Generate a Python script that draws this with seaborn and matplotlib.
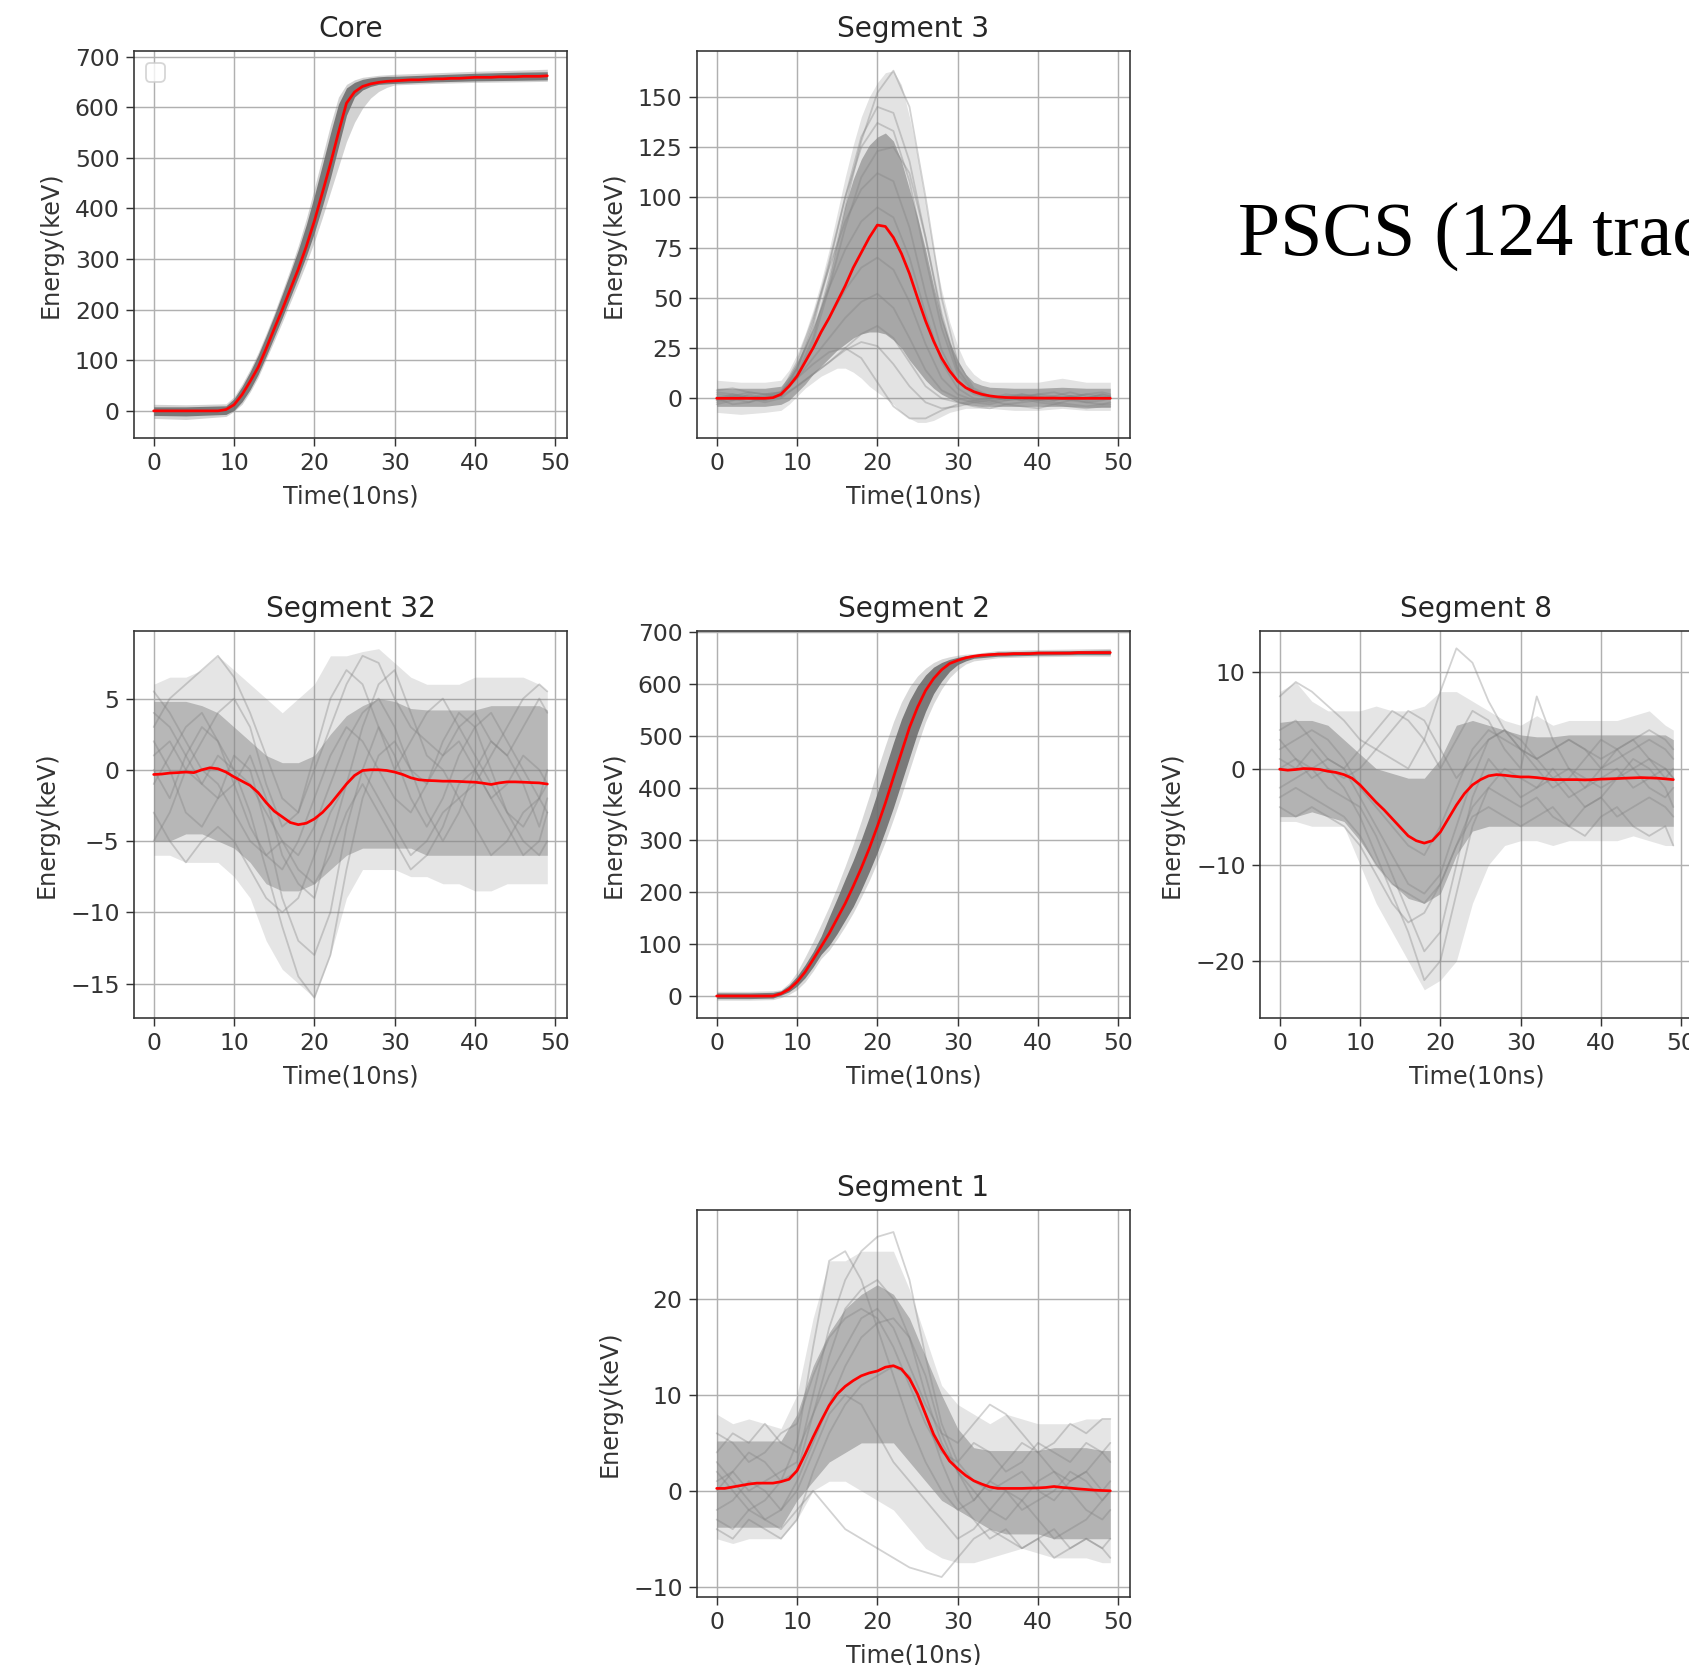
import matplotlib
matplotlib.use("Agg")
import matplotlib.pyplot as plt
import numpy as np
import pandas as pd
import seaborn as sns

# ---------------- data ----------------
time = list(range(50))
time_coarse = list(range(0, 50, 2)) + [49]

# mean (red) traces
core_mean = [0, 0, 0, 0, 0, 0, 0, 0, 0, 2.6,
             12, 32, 58, 86, 123, 162, 200, 240, 280, 325,
             375, 431, 488, 550, 608, 630, 641, 646, 649, 651,
             652, 653, 654, 654, 655, 656, 656, 657, 657, 658,
             659, 659, 659, 660, 660, 660, 661, 661, 661, 662]
seg3_mean = [0, 0, 0, 0, 0, 0, 0, 0.3, 2, 6,
             11, 18, 25, 33, 40, 48, 56, 65, 72.5, 80,
             86.2, 85.5, 80, 72, 62, 50, 38.5, 28.5, 20, 13.6,
             8.6, 5.3, 3.3, 2, 1.2, 0.7, 0.4, 0.3, 0.2, 0.2,
             0.1, 0.1, 0.1, 0, 0, 0, 0, 0, 0, 0]
seg32_mean = [-0.33, -0.3, -0.23, -0.2, -0.16, -0.2, 0, 0.14, 0.07, -0.16,
              -0.5, -0.8, -1.1, -1.6, -2.3, -2.9, -3.3, -3.7, -3.85, -3.75,
              -3.45, -3.0, -2.4, -1.7, -1.0, -0.4, -0.05, 0, 0, -0.05,
              -0.16, -0.33, -0.56, -0.7, -0.75, -0.77, -0.8, -0.8, -0.82, -0.85,
              -0.87, -0.94, -1.03, -0.92, -0.85, -0.85, -0.87, -0.9, -0.92, -1.0]
seg2_mean = [0, 0, 0, 0, 0, 0, 0, 0, 4.5, 13,
             27, 46, 70, 95, 120, 149, 178, 211, 246, 284,
             326, 371, 420, 468, 516, 555, 587, 610, 627, 639,
             645, 650, 653, 655, 656, 657, 657, 658, 658, 658,
             659, 659, 659, 659, 659, 660, 660, 660, 660, 660]
seg8_mean = [-0.07, -0.17, -0.1, 0, -0.03, -0.1, -0.28, -0.4, -0.63, -1.0,
             -1.7, -2.6, -3.5, -4.3, -5.2, -6.1, -7.0, -7.5, -7.75, -7.5,
             -6.6, -5.2, -3.8, -2.6, -1.7, -1.15, -0.76, -0.63, -0.7, -0.8,
             -0.87, -0.87, -0.94, -1.04, -1.15, -1.15, -1.15, -1.15, -1.18, -1.15,
             -1.1, -1.07, -1.04, -1.0, -0.97, -0.94, -0.97, -1.0, -1.07, -1.15]
seg1_mean = [0.25, 0.25, 0.4, 0.55, 0.7, 0.8, 0.8, 0.8, 0.95, 1.2,
             2.1, 3.8, 5.6, 7.3, 8.9, 10.1, 10.9, 11.5, 12.0, 12.3,
             12.5, 12.9, 13.05, 12.7, 11.7, 10.1, 8.0, 5.9, 4.4, 3.1,
             2.3, 1.6, 1.05, 0.7, 0.4, 0.25, 0.25, 0.25, 0.25, 0.28,
             0.3, 0.35, 0.45, 0.35, 0.28, 0.2, 0.14, 0.07, 0.03, 0]

# spread of the 124 grey traces: dense core band and faint outer band
core_band_t = [0, 4, 9, 10, 11, 12, 13, 14, 15, 16, 17, 18, 19, 20, 21, 22, 23, 24,
               25, 26, 27, 28, 29, 30, 35, 40, 45, 49]
core_in_lo = [-9, -10, -7, 1, 18, 42, 72, 108, 146, 184, 224, 264, 306, 352, 404, 460, 522, 584,
              620, 634, 641, 645, 646, 647, 650, 652, 653, 654]
core_in_hi = [8, 8, 10, 24, 48, 77, 110, 148, 188, 230, 273, 318, 368, 425, 486, 548, 606, 638,
              649, 655, 658, 660, 661, 661, 664, 667, 669, 670]
core_out_lo = [-15, -17, -11, -1, 13, 37, 66, 102, 138, 175, 214, 252, 292, 334, 382, 432, 482, 532,
               570, 598, 618, 631, 639, 644, 647, 649, 650, 651]
core_out_hi = [13, 12, 14, 28, 53, 82, 115, 153, 193, 236, 280, 327, 380, 440, 502, 565, 620, 645,
               654, 659, 661, 663, 664, 665, 668, 671, 673, 675]

seg2_band_t = [0, 4, 7, 8, 9, 10, 11, 12, 13, 14, 15, 16, 17, 18, 19, 20, 21, 22, 23, 24,
               25, 26, 27, 28, 29, 30, 31, 32, 35, 40, 45, 49]
seg2_in_lo = [-5, -5, -4, 1.5, 8, 19, 35, 56, 80, 97, 120, 146, 172, 204, 239, 276, 318, 362, 410, 458,
              506, 547, 581, 605, 624, 637, 644, 649, 653, 655, 656, 656]
seg2_in_hi = [6, 6, 7, 10, 21, 38, 60, 85, 115, 152, 188, 225, 261, 301, 344, 391, 439, 487, 532, 568,
              596, 617, 632, 641, 647, 651, 654, 656, 661, 663, 664, 665]
seg2_out_lo = [-8, -8, -7, -3, 3, 12, 27, 48, 72, 88, 110, 134, 160, 190, 222, 258, 297, 340, 385, 434,
               482, 527, 562, 590, 612, 627, 638, 644, 650, 652, 653, 653]
seg2_out_hi = [9, 9, 10, 12, 25, 46, 75, 105, 138, 172, 210, 250, 292, 337, 385, 435, 482, 527, 565, 594,
               615, 630, 641, 648, 652, 655, 657, 658, 664, 666, 667, 668]

seg3_band_t = [0, 3, 6, 8, 9, 10, 11, 12, 13, 14, 15, 16, 17, 18, 19, 20, 21, 22, 23, 24,
               25, 26, 27, 28, 29, 30, 31, 32, 33, 34, 37, 40, 43, 46, 49]
seg3_in_lo = [-4, -4, -4, -3, -1, 3, 7, 12, 16, 20, 24, 27, 30, 32, 33, 33, 32, 29, 25, 19,
              14, 9, 5, 2, 0, -2, -3, -3.5, -4, -4, -4, -4, -4, -4.5, -4.5]
seg3_in_hi = [5, 5, 5, 6, 11, 18, 26, 35, 46, 60, 78, 96, 109, 119, 126, 130, 132, 128, 118, 104,
              90, 74, 56, 40, 28, 19, 12, 8, 6.5, 5.5, 5, 5, 5.5, 5, 5]
seg3_out_lo = [-7, -8, -7, -6, -3, 1, 5, 8, 11, 13, 15, 15, 13, 10, 6, 3, 0, -3, -7, -10,
               -12, -12, -11, -9, -7, -6, -5, -5, -5, -5, -6, -6, -5, -6, -6]
seg3_out_hi = [9, 8, 8, 9, 14, 22, 32, 44, 58, 74, 92, 110, 126, 140, 150, 157, 162, 163, 156, 140,
               120, 97, 74, 54, 38, 26, 17, 12, 9, 8, 8, 8, 10, 8, 8]

seg32_in_lo = [-5, -5, -4.5, -4.5, -5, -5.5, -6.5, -8, -8.5, -8.5, -8, -7, -6, -5.5, -5.5, -5.5, -5.5,
               -6, -6, -6, -6, -6, -6, -6, -6, -6]
seg32_in_hi = [4.8, 4.8, 4.8, 4.5, 4, 3, 2, 1, 0.5, 0.5, 1, 2.5, 3.8, 4.5, 5, 4.8, 4.3,
               4.2, 4.2, 4.2, 4.2, 4.5, 4.5, 4.5, 4.5, 4.2]
seg32_out_lo = [-6, -6, -6.5, -6.5, -6.5, -7.5, -9, -12, -14, -15, -16, -13, -9, -7, -7, -7, -7.5,
                -7.5, -8, -8, -8.5, -8.5, -8, -8, -8, -8]
seg32_out_hi = [6, 6.5, 6.5, 7, 8, 7, 6, 5, 4, 5, 6, 8, 8, 8.3, 8.5, 7.5, 6.5,
                6, 6, 6, 6.5, 6.5, 6.5, 6.5, 6, 5.5]

seg8_in_lo = [-5, -5, -4.5, -5, -5.5, -7.5, -10, -12, -13.5, -14, -13, -9, -6.5, -6, -6, -6, -6,
              -6, -6, -6, -6, -6, -6, -6, -6, -6]
seg8_in_hi = [4.8, 5, 5, 4.5, 3, 1.5, 0, -0.5, -1, -1, 1, 4.5, 5, 4.5, 4, 3.5, 3.3,
              3.3, 3.5, 3.5, 3.5, 3.5, 3.5, 3.5, 3.5, 3]
seg8_out_lo = [-5.5, -5.5, -6, -6, -6, -10, -14, -17, -20, -23, -22, -20, -14, -10, -8, -7.5, -7.5,
               -8, -7.5, -7.5, -7.5, -7.5, -7, -7.5, -8, -8]
seg8_out_hi = [8, 9, 7, 6, 6, 6, 6.5, 6, 6, 6.5, 8, 8, 7, 6, 5, 4.5, 5.5,
               4.5, 5, 5, 5, 5, 5.5, 6, 4.5, 4]

seg1_in_lo = [-3.8, -3.8, -3.8, -3.8, -3.8, -1, 1, 3, 4, 5, 5, 5, 3, 1, -1, -2, -3,
              -4, -4.5, -4.5, -4.5, -5, -5, -5, -5, -5]
seg1_in_hi = [5.2, 5.2, 5.2, 5.2, 5.2, 8, 13, 16.5, 19, 20.5, 21.5, 20.5, 18, 14, 10, 6.5, 4.5,
              4.2, 4.2, 4.2, 4.2, 4.5, 4.5, 4.5, 4.2, 4.2]
seg1_out_lo = [-5, -5.5, -5, -5, -5, -3, 0, 1, 1, 0, -1, -2, -4, -6, -7, -7.5, -7.5,
               -7, -6.5, -6, -6.5, -7, -7, -7, -7.5, -7.5]
seg1_out_hi = [8, 7, 7.5, 7, 6.5, 10, 18, 24, 24, 25, 25, 25, 21, 16, 11, 9, 8,
               7, 8, 7.5, 7, 7, 7, 7.5, 7.5, 7.5]

# a few individual grey traces (sampled every 2 steps)
seg3_traces = [
    [1, -1, 2, 0, 2, 12, 30, 60, 95, 128, 152, 163, 145, 100, 50, 18, 5, 1, 0, 2, 1, -1, 0, 2, 1, 0],
    [-2, 0, 1, -1, 2, 15, 38, 68, 100, 125, 137, 133, 108, 70, 35, 12, 3, 1, -1, 0, 2, 1, 0, -2, -1, 0],
    [3, 2, 0, 1, 3, 18, 40, 65, 88, 104, 112, 108, 85, 52, 24, 8, 2, 0, 2, 1, -1, 0, 1, 2, 3, 2],
    [0, -3, -2, 0, 2, 10, 20, 30, 40, 48, 52, 45, 30, 14, 4, 0, -2, -3, -1, 0, -2, -3, -1, -2, -3, -2],
    [-1, 1, 0, 2, 3, 10, 17, 23, 25, 20, 8, -4, -10, -10, -6, -3, -1, 0, 1, -1, 0, 1, 3, 1, 0, 1],
    [4, 5, 3, 2, 1, 6, 12, 18, 25, 32, 36, 30, 18, 6, 0, -2, -4, -5, -3, -4, -5, -3, -4, -5, -4, -4],
    [0, 1, 0, -1, 1, 10, 28, 55, 85, 110, 123, 125, 112, 80, 42, 15, 4, 1, 0, -1, 1, 0, -1, 0, 1, 0],
    [0, 2, 1, 0, 1, 14, 36, 66, 100, 130, 145, 142, 118, 80, 40, 14, 3, 0, 1, 2, 0, -1, 1, 0, 2, 1],
    [-1, 0, -2, 1, 2, 15, 34, 55, 74, 88, 95, 90, 70, 42, 18, 5, 0, -1, 0, 1, -1, 0, 1, -1, 0, 0],
    [2, 1, 3, 2, 3, 12, 25, 40, 54, 65, 70, 64, 48, 27, 10, 2, -1, -2, 0, 1, 2, 3, 1, 0, 2, 1],
    [-3, -1, 0, -2, 0, 6, 12, 18, 24, 28, 26, 17, 6, -2, -5, -4, -2, -1, -3, -2, -1, -2, -3, -4, -3, -3],
]
seg32_traces = [
    [1, 2, 0, -1, 1, 0, -3, -7, -11, -14.5, -16, -13, -7, -2, 1, 2, 0, -1, 1, 2, 0, -2, -1, 1, 0, -1],
    [3, 5, 6, 7, 8, 6.5, 4, 1, -2, -3, 0, 3, 6, 8, 7.5, 5, 3, 2, 1, 3, 4, 2, 1, 3, 5, 4],
    [-3, -5, -6.5, -5, -4, -5, -7, -9, -10, -9, -6, -3, -1, 0, -2, -4, -6, -5, -3, -2, -4, -6, -5, -3, -2, -3],
    [0, -2, 1, 3, 2, 0, -1, -3, -5, -6, -4, -1, 2, 4, 5, 3, 0, -3, -5, -3, 0, 2, 1, -1, -4, -2],
    [4, 3, 1, -1, -2, -1, 1, -2, -6, -8, -9, -5, -1, 3, 6, 7, 4, 1, 0, -2, -1, 1, 3, 5, 6, 5.5],
    [-1, 1, 3, 4, 2, -1, -4, -6, -7, -5, -2, 1, 3, 2, 0, -2, -3, -1, 2, 4, 3, 0, -3, -4, -2, 0],
    [2, 0, -3, -4, -2, 1, 0, -4, -9, -12, -13, -10, -4, 0, 3, 1, -2, -4, -2, 1, 3, 4, 2, 0, -2, -1],
    [-5, -3, 0, 2, 4, 5, 3, -1, -4, -3, 1, 5, 7, 6, 3, 0, 2, 4, 5, 3, 1, -1, -3, -5, -6, -5],
    [5.5, 4, 2, 0, -1, -3, -5, -6, -5, -7, -8, -6, -3, -1, -3, -5, -7, -6, -4, -1, 0, -2, -4, -6, -5, -3],
]
seg8_traces = [
    [0, 1, -1, 0, -2, -5, -9, -13, -17, -22, -20, -13, -6, -2, 0, -1, -2, -1, 0, -2, -1, 0, -2, -1, 0, -1],
    [7.5, 9, 8, 6.5, 5, 3, 2, 1, 0, 3, 8, 12.5, 11, 7, 4, 2, 1, 2, 3, 2, 1, 2, 3, 4, 3, 2],
    [-4, -5, -4, -5, -6, -8, -11, -14, -16, -15, -12, -8, -5, -4, -5, -6, -5, -4, -6, -7, -5, -4, -6, -7, -6, -8],
    [2, 3, 4, 3, 1, -2, -4, -6, -8, -9, -6, -2, 2, 4, 3, 2, 1, 2, 3, 2, 0, 1, 2, 3, 2, 1],
    [-2, -1, 0, 1, 0, 2, 4, 6, 5, 3, 0, 3, 6, 5, 2, 0, 7.5, 3, 0, -1, -2, -1, 0, 1, 0, -1],
    [4, 5, 3, 1, 0, -3, -6, -9, -12, -13, -11, -6, -1, 3, 4, 3, 1, -1, -3, -2, 0, 2, 3, 1, -1, 0],
    [-3, -2, -3, -4, -5, -7, -10, -12, -13, -14, -12, -8, -4, -2, -3, -4, -3, -5, -6, -4, -3, -5, -4, -3, -4, -5],
    [1, 0, 2, 0, -1, 0, 2, 4, 6, 5, 2, -1, 1, 3, 4, 2, 0, -2, -1, 1, 3, 2, 0, -2, -3, -2],
    [3, 1, 0, -2, -3, -4, -7, -11, -15, -19, -17, -10, -3, 1, -1, -3, -2, 0, -2, -4, -3, -1, 1, 0, -2, -4],
]
seg1_traces = [
    [1, 2, 0, 1, 2, 3, 10, 17, 22, 25, 26.5, 27, 22, 14, 7, 3, 1, 0, 1, 2, 0, -1, 1, 2, 0, 1],
    [2, 0, -2, -1, 1, 5, 15, 24, 25, 22, 17, 12, 7, 3, 0, -2, -1, 1, 0, -2, -1, 0, 2, 1, -1, 0],
    [-3, -4, -2, -3, -4, -2, 0, -2, -4, -5, -6, -7, -8, -8.5, -9, -7, -5, -4, -5, -6, -5, -4, -6, -5, -6, -7],
    [4, 6, 5, 7, 5, 4, 8, 12, 15, 18, 19, 17, 13, 9, 6, 5, 7, 9, 8, 6, 4, 5, 7, 6, 7.5, 7.5],
    [-4, -5, -3, -4, -5, -3, 2, 6, 9, 11, 12, 13, 12, 8, 3, -1, -3, -5, -4, -6, -5, -7, -6, -5, -6, -5],
    [0, 2, 4, 3, 1, 2, 8, 14, 19, 21, 22, 20, 16, 10, 5, 2, 0, -2, -3, -1, 1, 2, 0, -2, -3, -2],
    [6, 5, 3, 4, 6, 7, 12, 16, 18, 19, 18, 15, 11, 7, 4, 3, 5, 4, 2, 3, 5, 4, 3, 5, 4, 3],
    [-2, -1, 1, 0, -2, 0, 4, 8, 10, 9, 6, 3, 1, -1, -3, -5, -4, -2, 0, -1, -3, -5, -4, -3, -1, 0],
    [3, 1, -1, -3, -2, 1, 5, 9, 13, 16, 17.5, 18, 16, 12, 6, 2, -1, 1, 3, 5, 4, 2, 1, 2, 4, 5],
]

titles = ["Core", "Segment 3", "Segment 32", "Segment 2", "Segment 8", "Segment 1"]
annotation = "PSCS (124 traces)"

# ---------------- style ----------------
sns.set_style("ticks", {"axes.grid": True, "grid.color": "#b0b0b0",
                        "axes.edgecolor": "0.2", "xtick.color": "0.2", "ytick.color": "0.2",
                        "text.color": "0.15", "axes.labelcolor": "0.2"})
plt.rcParams.update({
    "font.family": ["DejaVu Sans"],
    "axes.linewidth": 0.9,
    "grid.linewidth": 0.8,
    "xtick.major.size": 4.5, "ytick.major.size": 4.5,
    "xtick.major.width": 0.8, "ytick.major.width": 0.8,
    "font.size": 13, "axes.titlesize": 15.5, "axes.labelsize": 13.3,
    "xtick.labelsize": 13, "ytick.labelsize": 13, "legend.fontsize": 13,
})

DPI = 130
fig = plt.figure(figsize=(1689 / DPI, 1665 / DPI), dpi=DPI)
W, H = 1689.0, 1665.0
aw, ah = 433.0, 386.7
col_left = [134.0, 697.0, 1260.0]
row_top = [51.0, 631.0, 1210.0]


def make_ax(col, row):
    l = col_left[col] / W
    b = 1 - (row_top[row] + ah) / H
    return fig.add_axes([l, b, aw / W, ah / H])


panels = [
    dict(pos=(0, 0), title=titles[0], mean=core_mean,
         band=(core_band_t, core_in_lo, core_in_hi, core_out_lo, core_out_hi),
         traces=None, ylim=(-53, 711), yticks=list(range(0, 701, 100)),
         in_color="#6a6a6a", in_alpha=0.85, out_alpha=0.35),
    dict(pos=(1, 0), title=titles[1], mean=seg3_mean,
         band=(seg3_band_t, seg3_in_lo, seg3_in_hi, seg3_out_lo, seg3_out_hi),
         traces=seg3_traces, ylim=(-19.6, 172.8), yticks=list(range(0, 151, 25)),
         in_color="#808080", in_alpha=0.6, out_alpha=0.22),
    dict(pos=(0, 1), title=titles[2], mean=seg32_mean,
         band=(time_coarse, seg32_in_lo, seg32_in_hi, seg32_out_lo, seg32_out_hi),
         traces=seg32_traces, ylim=(-17.4, 9.74), yticks=[-15, -10, -5, 0, 5],
         in_color="#8a8a8a", in_alpha=0.5, out_alpha=0.2),
    dict(pos=(1, 1), title=titles[3], mean=seg2_mean,
         band=(seg2_band_t, seg2_in_lo, seg2_in_hi, seg2_out_lo, seg2_out_hi),
         traces=None, ylim=(-41.7, 701.5), yticks=list(range(0, 701, 100)),
         in_color="#6a6a6a", in_alpha=0.85, out_alpha=0.3),
    dict(pos=(2, 1), title=titles[4], mean=seg8_mean,
         band=(time_coarse, seg8_in_lo, seg8_in_hi, seg8_out_lo, seg8_out_hi),
         traces=seg8_traces, ylim=(-25.9, 14.3), yticks=[-20, -10, 0, 10],
         in_color="#8a8a8a", in_alpha=0.55, out_alpha=0.2),
    dict(pos=(1, 2), title=titles[5], mean=seg1_mean,
         band=(time_coarse, seg1_in_lo, seg1_in_hi, seg1_out_lo, seg1_out_hi),
         traces=seg1_traces, ylim=(-11.05, 29.3), yticks=[-10, 0, 10, 20],
         in_color="#8a8a8a", in_alpha=0.55, out_alpha=0.2),
]

for p in panels:
    ax = make_ax(*p["pos"])
    bt, ilo, ihi, olo, ohi = p["band"]
    ax.fill_between(bt, olo, ohi, color="gray", alpha=p["out_alpha"], linewidth=0, zorder=1)
    ax.fill_between(bt, ilo, ihi, color=p["in_color"], alpha=p["in_alpha"], linewidth=0, zorder=1.2)
    if p["traces"] is not None:
        rows = []
        for k, tr in enumerate(p["traces"]):
            for t, v in zip(time_coarse, tr):
                rows.append((k, t, v))
        df = pd.DataFrame(rows, columns=["trace", "t", "e"])
        sns.lineplot(data=df, x="t", y="e", units="trace", estimator=None,
                     color="gray", alpha=0.35, linewidth=1.0, ax=ax, legend=False)
    dm = pd.DataFrame({"t": time, "e": p["mean"]})
    sns.lineplot(data=dm, x="t", y="e", color="red", linewidth=1.5, ax=ax, legend=False, zorder=5)
    ax.set_xlim(-2.45, 51.45)
    ax.set_ylim(*p["ylim"])
    ax.set_xticks([0, 10, 20, 30, 40, 50])
    ax.set_yticks(p["yticks"])
    ax.set_xlabel("Time(10ns)", labelpad=5.4)
    ax.set_ylabel("Energy(keV)", labelpad=6.6)
    ax.set_title(p["title"], pad=8)
    ax.grid(True)
    for s in ax.spines.values():
        s.set_visible(True)
    if p["title"] == "Core":
        ax.legend(handles=[], loc="upper left")

fig.text(1238 / W, 1 - 255 / H, annotation, fontsize=42, family="Liberation Serif",
         color="black", va="baseline", ha="left")

fig.savefig("out.png", dpi=DPI)
